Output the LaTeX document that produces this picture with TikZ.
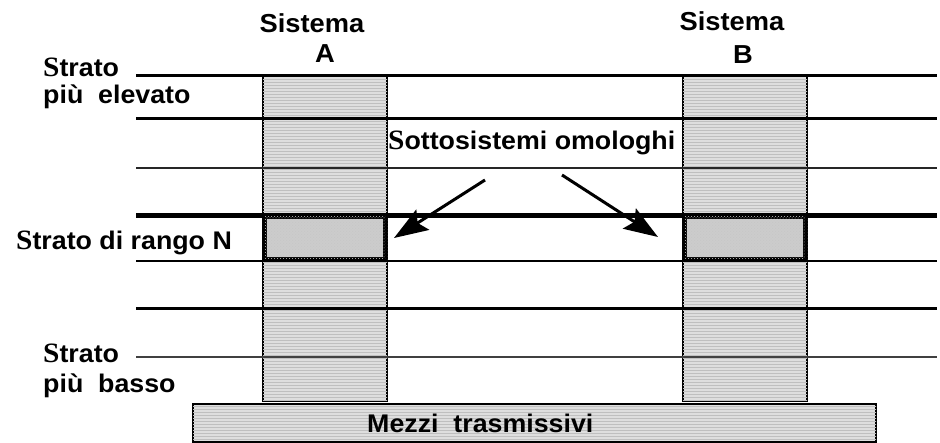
\documentclass[tikz,border=0pt]{standalone}
\usepackage{fontspec}
\setmainfont{Liberation Sans}[FakeStretch=1.05]
\newfontfamily\initialfont{Liberation Serif}[FakeStretch=1.05]
\usetikzlibrary{arrows.meta,patterns}
\newcommand{\capS}{{\initialfont\bfseries\fontsize{28}{28}\selectfont S}}
\begin{document}
\begin{tikzpicture}[x=1pt,y=-1pt,
  txt/.style={font=\bfseries\fontsize{25.5}{28}\selectfont, inner sep=0pt, anchor=base west},
  hdr/.style={font=\bfseries\fontsize{26}{28}\selectfont, inner sep=0pt, anchor=base},
  column/.style={draw=black, line width=1.5pt, fill=black!13,
    postaction={pattern=horizontal lines, pattern color=black!25}},
  peer/.style={draw=black, line width=4pt, fill=black!20,
    postaction={pattern=crosshatch dots, pattern color=black!22}},
  medium/.style={draw=black, line width=1.5pt, fill=black!13,
    postaction={pattern=horizontal lines, pattern color=black!25}},
  layer/.style={line width=#1},
  pointer/.style={line width=3pt, -{Stealth[length=34pt,width=24pt,inset=6pt]}}
]
\useasboundingbox (0,0) rectangle (940,443);

% the two systems as columns of layers
\draw[column] (263,76) rectangle (387,401);
\draw[column] (683,76) rectangle (807,401);

% transmission medium
\draw[medium] (193,404) rectangle (876,442);
\node[txt] (mezzi) at (367,433) {Mezzi\ \ trasmissivi};

% layer boundaries
\coordinate (l1) at (136,76);   \coordinate (r1) at (937,76);
\coordinate (l2) at (136,119);  \coordinate (r2) at (937,119);
\coordinate (l3) at (136,168);  \coordinate (r3) at (937,168);
\coordinate (l4) at (136,216);  \coordinate (r4) at (937,216);
\coordinate (l5) at (136,261);  \coordinate (r5) at (937,261);
\coordinate (l6) at (136,309);  \coordinate (r6) at (937,309);
\coordinate (l7) at (136,357);  \coordinate (r7) at (937,357);
\draw[layer=3pt] (l1) -- (r1);
\draw[layer=3pt] (l2) -- (r2);
\draw[layer=2pt, black!85] (l3) -- (r3);
\draw[layer=5pt] (l4) -- (r4);
\draw[layer=2.5pt] (l5) -- (r5);
\draw[layer=3pt] (l6) -- (r6);
\draw[layer=2pt, black!75] (l7) -- (r7);

% peer entities at layer N
\node[peer, minimum width=120pt, minimum height=42pt, inner sep=0pt] (nA) at (325,238) {};
\node[peer, minimum width=120pt, minimum height=42pt, inner sep=0pt] (nB) at (745,238) {};

% headings
\node[hdr] (sysA) at (312,33) {Sistema};
\node[hdr] (sysAl) at (325,63) {A};
\node[hdr] (sysB) at (732,31) {Sistema};
\node[hdr] (sysBl) at (743,64) {B};

% layer labels
\node[txt] (top1) at (43,77) {\capS trato};
\node[txt] (top2) at (43,104) {più\ \ elevato};
\node[txt] (rankN) at (16,250) {\capS trato di rango N};
\node[txt] (bot1) at (43,363) {\capS trato};
\node[txt] (bot2) at (43,393) {più\ \ basso};
\node[txt] (peers) at (388,150) {\capS ottosistemi omologhi};

% pointers to the peer entities
\coordinate (tailA) at (485,180);
\coordinate (tailB) at (562,175);
\draw[pointer] (tailA) -- ([xshift=7pt]nA.east);
\draw[pointer] (tailB) -- ([xshift=-25pt,yshift=1pt]nB.west);
\end{tikzpicture}
\end{document}
